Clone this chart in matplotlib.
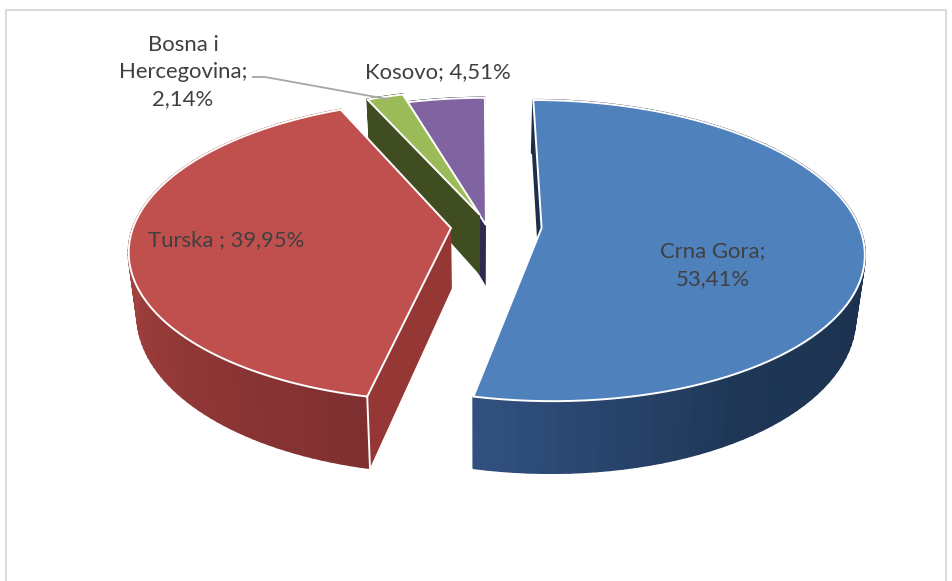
import numpy as np
import matplotlib
matplotlib.use('Agg')
import matplotlib.pyplot as plt
from matplotlib.collections import PolyCollection
from matplotlib.colors import to_rgb

plt.rcParams['font.family'] = ['Lato', 'DejaVu Sans']

names = ['Crna Gora', 'Turska', 'Bosna i Hercegovina', 'Kosovo']
shares = [53.41, 39.95, 2.14, 4.51]

top_colors = ['#4f81bd', '#c0504d', '#9bbb59', '#8064a2']
cut_colors = ['#1c304c', '#953735', '#404d20', '#2e2a50']
# side shading: colour at theta stops (degrees clockwise from the top)
side_stops = [
    ([85, 150, 192], ['#1b2f4b', '#1f3757', '#315180']),
    ([192, 280], ['#7e2f2f', '#aa4441']),
    ([336, 344], ['#404d20', '#404d20']),
    ([344, 360], ['#2e2a50', '#2e2a50']),
]
# how far each slice was pulled out, in radius units (u right, v to the viewer)
offsets = [(0.20, 0.0), (-0.085, 0.0), (0.006, -0.09), (0.025, -0.02)]
draw_order = [3, 2, 1, 0]

# camera
cx, cy = 478, 228
R, K, p = 318, 147.2, 0.15
depth, shrink = 61, 0.975


def project(u, v, z=0.0):
    s = 1 / (1 - p * v)
    x = cx + R * u * s * (1 - (1 - shrink) * z)
    y = cy + K * v * s + depth * z * s
    return np.column_stack([x, y])


fig = plt.figure(figsize=(9.52, 5.81), dpi=100)
ax = fig.add_axes([0, 0, 1, 1])
ax.set_xlim(0, 952)
ax.set_ylim(581, 0)
ax.axis('off')

# chart frame, cut off at the bottom of the screenshot
ax.plot([5.5, 5.5, 945.5, 945.5], [590, 10, 10, 590], color='#d9d9d9', lw=1.4)

edges = np.cumsum([0] + shares) / sum(shares) * 360

for i in draw_order:
    t0, t1 = edges[i], edges[i + 1]
    ou, ov = offsets[i]
    th = np.radians(np.linspace(t0, t1, 90))
    u = ou + np.sin(th)
    v = ov - np.cos(th)

    # the two cut faces
    for a in [t1, t0]:
        ru = ou + np.sin(np.radians(a))
        rv = ov - np.cos(np.radians(a))
        face = np.vstack([project(np.array([ou, ru]), np.array([ov, rv])),
                          project(np.array([ru, ou]), np.array([rv, ov]), 1.0)])
        ax.fill(face[:, 0], face[:, 1], color=cut_colors[i], lw=0)

    # outer wall, painted in strips for the gradient
    up = project(u, v)
    low = project(u, v, 1.0)
    quads = [[up[j], up[j + 1], low[j + 1], low[j]] for j in range(len(up) - 1)]
    stops, cols = side_stops[i]
    rgb = np.array([to_rgb(c) for c in cols])
    mids = np.degrees((th[:-1] + th[1:]) / 2)
    fc = np.column_stack([np.interp(mids, stops, rgb[:, k]) for k in range(3)])
    ax.add_collection(PolyCollection(quads, facecolors=fc, edgecolors=fc, linewidths=1.6))

    # white line down the wall corner at the start of the lower slices
    if i == 1:
        ax.plot([up[0, 0], low[0, 0]], [up[0, 1], low[0, 1]], color='white', lw=1.4)

    # top surface
    apex = project(np.array([ou]), np.array([ov]))
    top = np.vstack([apex, up])
    ax.fill(top[:, 0], top[:, 1], facecolor=top_colors[i], edgecolor='white', lw=1.4,
            joinstyle='miter')

txt = dict(color='#404040', fontsize=15.9, ha='center', va='center', linespacing=1.45)
ax.text(183, 72, 'Bosna i\nHercegovina;\n2,14%', **txt)
ax.text(438, 72, 'Kosovo; 4,51%', **txt)
ax.text(226, 240, 'Turska ; 39,95%', **txt)
ax.text(713, 265, 'Crna Gora;\n53,41%', **txt)

# leader line for the small slice
ax.plot([253, 265, 387], [77, 77, 99], color='#a6a6a6', lw=1.3)

fig.savefig('out.png', dpi=100)
